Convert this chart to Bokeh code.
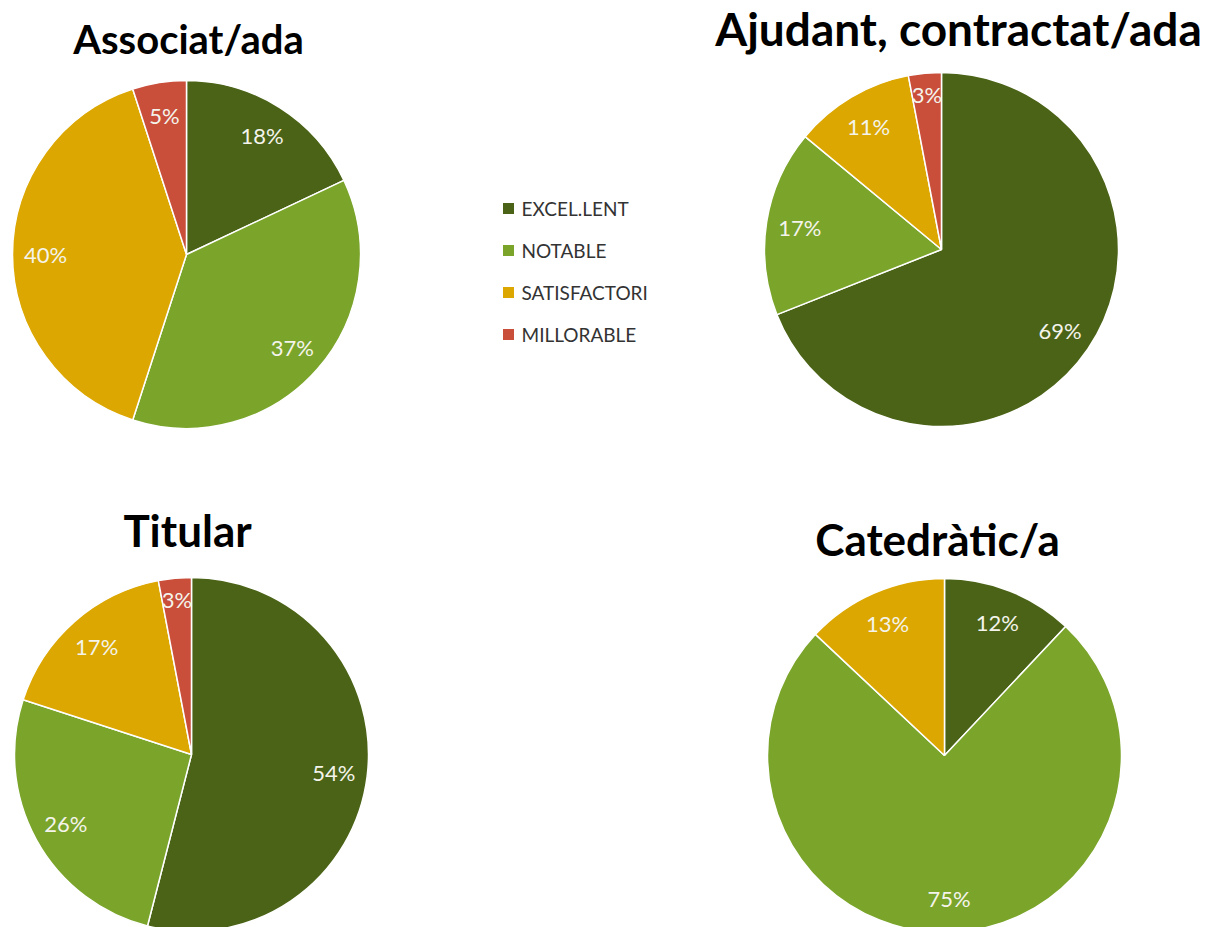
import math
from bokeh.plotting import figure
from bokeh.models import Range1d, ColumnDataSource
from bokeh.core.properties import value
from bokeh.embed import file_html
from bokeh.resources import INLINE

# ---- data ----
categories = ["EXCEL.LENT", "NOTABLE", "SATISFACTORI", "MILLORABLE"]
titles = ["Associat/ada", "Ajudant, contractat/ada", "Titular", "Catedràtic/a"]
associat = [18, 37, 40, 5]
ajudant = [69, 17, 11, 3]
titular = [54, 26, 17, 3]
catedratic = [12, 75, 13, 0]
series = [associat, ajudant, titular, catedratic]

# ---- style / layout ----
colors = ["#4A6316", "#7AA42A", "#DCA700", "#C94F3B"]
FONT = "Lato"
W, H = 1206, 927
PAGE_H = 927

def sy(y):  # screen y -> data y
    return PAGE_H - y

# pie centres / radii (screen coords)
centres = [(186, 254, 174), (941, 249, 177), (191, 754, 177), (944, 755, 177)]
title_pos = [(188, 38, 40), (958, 28, 46), (187, 529, 44), (937, 538, 44)]

p = figure(width=W, height=H, x_range=Range1d(0, W), y_range=Range1d(PAGE_H - H, PAGE_H),
           output_backend="svg", toolbar_location=None, min_border=0)
p.axis.visible = False
p.grid.visible = False
p.outline_line_color = None
p.background_fill_color = "white"
p.border_fill_color = "white"

for vals, (cx, cy, r), title, (tx, ty, ts) in zip(series, centres, titles, title_pos):
    total = float(sum(vals))
    xs, ys, starts, ends, cols = [], [], [], [], []
    lx, ly, lt = [], [], []
    cum = 0.0
    for v, c in zip(vals, colors):
        if v <= 0:
            continue
        a0 = math.pi / 2 - 2 * math.pi * cum / total
        a1 = math.pi / 2 - 2 * math.pi * (cum + v) / total
        mid = (a0 + a1) / 2
        f = 0.88 if v <= 3 else 0.81
        xs.append(cx); ys.append(sy(cy)); starts.append(a0); ends.append(a1); cols.append(c)
        lx.append(cx + f * r * math.cos(mid))
        ly.append(sy(cy) + f * r * math.sin(mid))
        lt.append(f"{v}%")
        cum += v
    src = ColumnDataSource(dict(x=xs, y=ys, s=starts, e=ends, c=cols))
    p.wedge(x="x", y="y", radius=r, start_angle="s", end_angle="e", direction="clock",
            fill_color="c", line_color="white", line_width=1.5, source=src)
    p.text(x=lx, y=ly, text=lt, text_color="#F4F4EC", text_font=value(FONT),
           text_font_size="22px", text_align="center", text_baseline="middle")
    p.text(x=[tx], y=[sy(ty)], text=[title], text_color="black", text_font=value(FONT),
           text_font_style="bold", text_font_size=f"{ts}px", text_align="center",
           text_baseline="middle")

# ---- legend ----
leg_y = [208, 250, 292, 334]
p.rect(x=[508] * 4, y=[sy(v) for v in leg_y], width=11, height=11, width_units="screen",
       height_units="screen", fill_color=colors, line_color=None)
p.text(x=[521] * 4, y=[sy(v) for v in leg_y], text=categories, text_color="#333333",
       text_font=value(FONT), text_font_size="19px", text_align="left", text_baseline="middle")

open("out.html", "w").write(file_html(p, INLINE))
